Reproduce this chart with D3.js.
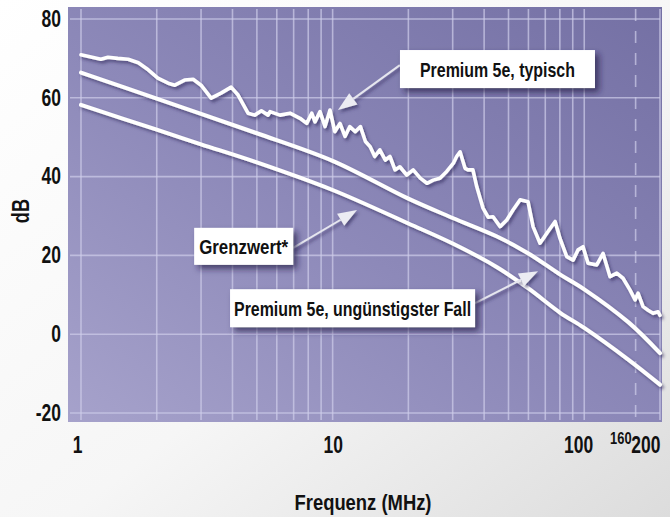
<!DOCTYPE html>
<html><head><meta charset="utf-8">
<script src="https://cdn.jsdelivr.net/npm/d3@7"></script>
<style>
html,body{margin:0;padding:0;background:#fff;}
svg{display:block;}
text{font-family:"Liberation Sans",Arial,sans-serif;font-weight:bold;fill:#111;}
</style></head>
<body>
<svg id="c" width="670" height="517"></svg>
<script>
// ---- data ----
const typFreq = [1.00,1.20,1.28,1.40,1.54,1.69,1.85,2.02,2.22,2.36,2.58,2.79,3.00,3.29,3.60,3.95,4.21,4.61,4.90,5.21,5.54,5.64,6.18,6.77,7.42,7.89,8.26,8.51,8.91,9.33,9.76,10.2,10.7,11.2,11.7,12.3,12.9,13.5,14.1,14.7,15.4,16.2,16.9,17.7,18.5,19.7,20.9,22.3,23.7,25.1,26.7,28.4,30.2,31.1,32.1,33.6,34.5,36.1,37.4,39.6,41.5,43.4,46.3,49.2,52.1,55.6,59.8,62.6,66.7,71.0,76.6,80.1,85.2,90.3,94.5,98.9,103.5,112.1,118.8,126.6,134.7,142.6,152.1,159.2,163.6,171.3,179.3,187.7,196.5,200];
const typDb   = [70.9,69.8,70.3,70.0,69.8,68.9,67.1,65.0,63.7,63.2,64.5,64.7,63.2,59.9,61.2,62.7,60.7,56.1,55.6,56.7,55.6,56.5,55.6,56.1,54.8,53.5,56.1,53.9,56.5,52.7,56.9,51.4,53.5,50.2,52.7,51.4,52.7,48.9,47.6,45.1,46.8,44.2,45.1,41.7,42.5,40.4,41.7,39.6,38.3,39.1,39.6,41.3,43.4,45.1,46.3,42.1,41.7,41.7,37.4,32.0,29.7,29.8,27.3,29.0,31.5,34.1,33.6,27.3,23.1,25.6,28.6,24.3,19.7,18.8,21.4,22.2,18.0,17.6,20.5,14.6,15.5,14.2,11.2,8.7,10.4,7.0,6.1,5.3,5.7,4.8];
const smoothFreq = [1,2,3,5,10,20,30,45,60,80,100,150,200];
const worstDb    = [66.4,59.8,55.9,51.0,44.0,34.4,29.5,24.8,20.5,15.2,11.4,3.0,-4.8];
const limitDb    = [58.2,51.9,48.2,43.6,36.6,28.1,23.0,17.0,11.6,5.5,1.6,-6.5,-12.8];
const yTicks = [-20,0,20,40,60,80];
const xTicks = [1,10,100,200];
const xTickLabels = ["1","10","100","200"];
const gridFreq = [1,2,3,4,5,6,7,8,9,10,20,30,40,50,60,70,80,90,100,200];
const markFreq = 160;
const markLabel = "160";
const labels = ["Premium 5e, typisch","Grenzwert*","Premium 5e, ungünstigster Fall"];
const xTitle = "Frequenz (MHz)";
const yTitle = "dB";

// ---- layout ----
const SX = 0.76; // condensed look
const svg = d3.select("#c");
const x = d3.scaleLog().domain([1,200]).range([81,660]);
const y = d3.scaleLinear().domain([-20,80]).range([413,19]);

const defs = svg.append("defs");
const pg = defs.append("linearGradient").attr("id","pg").attr("x1","0").attr("y1","0").attr("x2","1").attr("y2","1");
pg.append("stop").attr("offset","0").attr("stop-color","#ffffff");
pg.append("stop").attr("offset","0.55").attr("stop-color","#f6f6f6");
pg.append("stop").attr("offset","1").attr("stop-color","#dcdcdc");
const bg = defs.append("linearGradient").attr("id","bg").attr("x1","0").attr("y1","1").attr("x2","1").attr("y2","0");
bg.append("stop").attr("offset","0").attr("stop-color","#a6a2cb");
bg.append("stop").attr("offset","0.45").attr("stop-color","#8d89b9");
bg.append("stop").attr("offset","1").attr("stop-color","#7470a4");
const sh = defs.append("filter").attr("id","sh").attr("x","-20%").attr("y","-20%").attr("width","140%").attr("height","140%");
sh.append("feDropShadow").attr("dx",2).attr("dy",2.5).attr("stdDeviation",1.6).attr("flood-color","#2c2858").attr("flood-opacity",0.6);
const bsh = defs.append("filter").attr("id","bsh").attr("x","-20%").attr("y","-30%").attr("width","150%").attr("height","180%");
bsh.append("feDropShadow").attr("dx",4).attr("dy",4).attr("stdDeviation",3).attr("flood-color","#221f45").attr("flood-opacity",0.7);

svg.append("rect").attr("width",670).attr("height",517).attr("fill","url(#pg)");
svg.append("rect").attr("x",68).attr("y",7).attr("width",594).attr("height",415).attr("fill","url(#bg)");

// grid
const g = svg.append("g").attr("stroke","#cfcdea").attr("stroke-opacity",0.7).attr("stroke-width",1.6);
g.selectAll("line.v").data(gridFreq).join("line")
  .attr("x1",d=>x(d)).attr("x2",d=>x(d)).attr("y1",9).attr("y2",420);
g.selectAll("line.h").data(yTicks).join("line")
  .attr("x1",70).attr("x2",660).attr("y1",d=>y(d)).attr("y2",d=>y(d));
g.append("line").attr("x1",x(markFreq)).attr("x2",x(markFreq)).attr("y1",9).attr("y2",420)
  .attr("stroke-dasharray","12,10");

// curves
const line = d3.line().x(d=>x(d[0])).y(d=>y(d[1]));
const smooth = d3.line().x(d=>x(d[0])).y(d=>y(d[1])).curve(d3.curveCatmullRom);
const cg = svg.append("g").attr("fill","none").attr("stroke","#ffffff").attr("filter","url(#sh)").attr("stroke-linejoin","round").attr("stroke-linecap","round");
cg.append("path").attr("d",smooth(smoothFreq.map((f,i)=>[f,limitDb[i]]))).attr("stroke-width",4);
cg.append("path").attr("d",smooth(smoothFreq.map((f,i)=>[f,worstDb[i]]))).attr("stroke-width",4);
cg.append("path").attr("d",line(typFreq.map((f,i)=>[f,typDb[i]]))).attr("stroke-width",3.6);

// annotations (anchored in data coordinates)
const ann = [
  {t:labels[0], cf:45.2, cv:67.3, w:195, h:38, tl:155, sf:18.5, sv:68.3, ef:10.5, ev:56.9},
  {t:labels[1], cf:4.43, cv:22.3, w:99,  h:37, tl:89,  sf:6.96, sv:21.9, ef:12.5, ev:31.5},
  {t:labels[2], cf:12.0, cv:6.6,  w:245, h:38, tl:237, sf:36.8, sv:7.9,  ef:65.5, ev:16.0}
];
const ag = svg.append("g");
ann.forEach(a=>{
  const x0=x(a.sf), y0=y(a.sv), x1=x(a.ef), y1=y(a.ev);
  const ang=Math.atan2(y1-y0,x1-x0), L=19, W=7;
  const bx=x1-L*Math.cos(ang), by=y1-L*Math.sin(ang);
  const grp=ag.append("g").attr("filter","url(#sh)");
  grp.append("line").attr("x1",x0).attr("y1",y0).attr("x2",bx).attr("y2",by)
    .attr("stroke","#e6e6ef").attr("stroke-width",2);
  grp.append("path").attr("fill","#ececf3")
    .attr("d",`M${x1},${y1}L${bx-W*Math.sin(ang)},${by+W*Math.cos(ang)}L${bx+W*Math.sin(ang)},${by-W*Math.cos(ang)}Z`);
});
ann.forEach(a=>{
  const cx=x(a.cf), cy=y(a.cv);
  ag.append("rect").attr("x",cx-a.w/2).attr("y",cy-a.h/2).attr("width",a.w).attr("height",a.h)
    .attr("fill","#ffffff").attr("filter","url(#bsh)");
  ag.append("text").attr("x",cx).attr("y",cy+7.5).attr("text-anchor","middle")
    .attr("font-size",21).attr("textLength",a.tl).attr("lengthAdjust","spacingAndGlyphs").text(a.t);
});

// axes
const ya = svg.append("g").attr("transform","translate(61,0)")
  .call(d3.axisLeft(y).tickValues(yTicks).tickSize(0).tickPadding(0).tickFormat(d=>String(d)));
ya.select(".domain").remove();
ya.selectAll("text").attr("font-size",23).attr("fill","#111").attr("font-family",null)
  .attr("transform",`scale(${SX},1)`);

const xa = svg.append("g").attr("transform","translate(0,437)")
  .call(d3.axisBottom(x).tickValues(xTicks).tickSize(0).tickPadding(0).tickFormat((d,i)=>xTickLabels[i]));
xa.select(".domain").remove();
xa.selectAll("text").attr("font-size",23).attr("fill","#111").attr("font-family",null)
  .attr("x",(d)=> d===1?-5:(d===100?-8:0))
  .attr("text-anchor",(d)=> d===200?"end":"middle")
  .attr("transform",`scale(${SX},1)`);
svg.append("text").attr("transform",`translate(${x(markFreq)-4},444) scale(${SX},1)`).attr("text-anchor","end")
  .attr("font-size",17).text(markLabel);

svg.append("text").attr("x",363).attr("y",510).attr("text-anchor","middle").attr("font-size",22)
  .attr("textLength",137).attr("lengthAdjust","spacingAndGlyphs").text(xTitle);
svg.append("text").attr("transform",`translate(29,211) rotate(-90) scale(${SX},1)`).attr("text-anchor","middle")
  .attr("font-size",24).text(yTitle);
</script>
</body></html>
